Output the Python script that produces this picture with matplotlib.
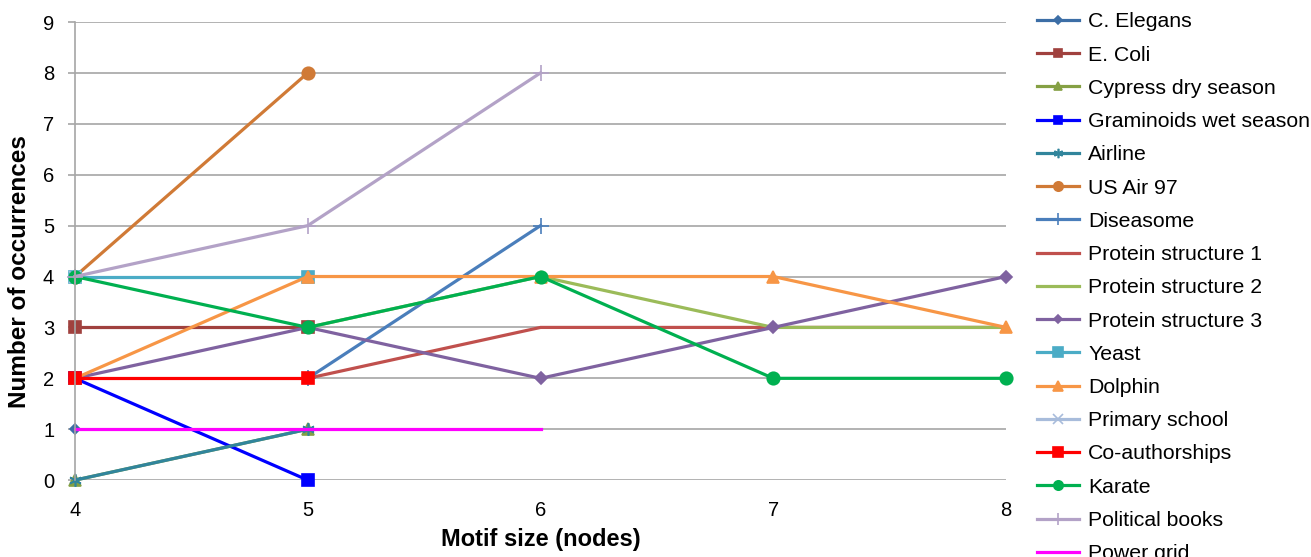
import matplotlib
matplotlib.use('Agg')
import matplotlib.pyplot as plt

plt.rcParams['font.family'] = ['Liberation Sans', 'DejaVu Sans']

# motif size (nodes) and number of occurrences per network
names = ['C. Elegans', 'E. Coli', 'Cypress dry season', 'Graminoids wet season',
         'Airline', 'US Air 97', 'Diseasome', 'Protein structure 1',
         'Protein structure 2', 'Protein structure 3', 'Yeast', 'Dolphin',
         'Primary school', 'Co-authorships', 'Karate', 'Political books', 'Power grid']

sizes = {
    'C. Elegans': [4],
    'E. Coli': [4, 5],
    'Cypress dry season': [4, 5],
    'Graminoids wet season': [4, 5],
    'Airline': [4, 5],
    'US Air 97': [4, 5],
    'Diseasome': [5, 6],
    'Protein structure 1': [5, 6, 7, 8],
    'Protein structure 2': [5, 6, 7, 8],
    'Protein structure 3': [4, 5, 6, 7, 8],
    'Yeast': [4, 5],
    'Dolphin': [4, 5, 6, 7, 8],
    'Primary school': [4],
    'Co-authorships': [4, 5],
    'Karate': [4, 5, 6, 7, 8],
    'Political books': [4, 5, 6],
    'Power grid': [4, 5, 6],
}
counts = {
    'C. Elegans': [1],
    'E. Coli': [3, 3],
    'Cypress dry season': [0, 1],
    'Graminoids wet season': [2, 0],
    'Airline': [0, 1],
    'US Air 97': [4, 8],
    'Diseasome': [2, 5],
    'Protein structure 1': [2, 3, 3, 3],
    'Protein structure 2': [3, 4, 3, 3],
    'Protein structure 3': [2, 3, 2, 3, 4],
    'Yeast': [4, 4],
    'Dolphin': [2, 4, 4, 4, 3],
    'Primary school': [4],
    'Co-authorships': [2, 2],
    'Karate': [4, 3, 4, 2, 2],
    'Political books': [4, 5, 8],
    'Power grid': [1, 1, 1],
}

colors = ['#3C6EA6', '#A0413E', '#85A044', '#0000FF', '#31859C', '#D07A36',
          '#4A7EBB', '#C0504D', '#9BBB59', '#7F62A0', '#4BACC6', '#F79646',
          '#A8BCDB', '#FF0000', '#00B050', '#B3A2C7', '#FF00FF']
markers = ['D', 's', '^', 's', (6, 2, 0), 'o', '+', None, None, 'D', 's', '^',
           'x', 's', 'o', '+', None]
msizes = [5, 8, 8, 8, 9, 9, 11, 0, 0, 6, 9, 9, 9, 9, 9, 11, 0]

fig = plt.figure(figsize=(13.11, 5.57), dpi=100)
ax = fig.add_axes([0.0572, 0.138, 0.7102, 0.8225])

for i, n in enumerate(names):
    ax.plot(sizes[n], counts[n], color=colors[i], marker=markers[i],
            markersize=msizes[i], linewidth=2.3, label=n, clip_on=False,
            markeredgewidth=1.2)

ax.set_xlim(4, 8)
ax.set_ylim(0, 9)
ax.set_xticks([4, 5, 6, 7, 8])
ax.set_yticks(range(10))
ax.yaxis.grid(True, color='#A6A6A6', linewidth=1.2)
ax.set_axisbelow(True)
for s in ['top', 'right', 'bottom']:
    ax.spines[s].set_visible(False)
ax.spines['left'].set_color('#A6A6A6')
ax.spines['left'].set_linewidth(1.2)
ax.tick_params(axis='x', labelsize=14.5, length=0, pad=15)
ax.tick_params(axis='y', labelsize=14.5, length=5, width=1.2, color='#A6A6A6', pad=10)

ax.set_xlabel('Motif size (nodes)', fontsize=17, fontweight='bold', labelpad=6)
ax.set_ylabel('Number of occurrences', fontsize=17.5, fontweight='bold')
ax.yaxis.set_label_coords(-0.047, 0.456)

fig.legend(loc='upper left', bbox_to_anchor=(0.7847, 0.993), frameon=False,
           fontsize=15.3, handlelength=1.95, labelspacing=0.67, handletextpad=0.45,
           markerscale=0.75, borderaxespad=0)

fig.savefig('out.png', dpi=100)
